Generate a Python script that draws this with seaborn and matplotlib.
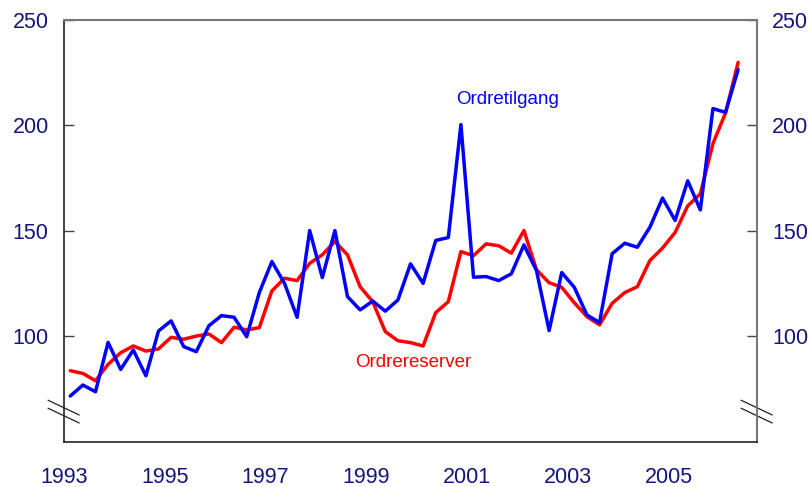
import numpy as np
import pandas as pd
import matplotlib
matplotlib.use('Agg')
import matplotlib.pyplot as plt
import seaborn as sns

# Quarterly data, 1993Q1 - 2006Q2
quarters = pd.period_range('1993Q1', '2006Q2', freq='Q')

ordretilgang = [71.8, 77.0, 73.8, 97.2, 84.4, 93.6, 81.4, 102.6, 107.4, 95.2,
                92.8, 105.1, 109.9, 109.1, 99.9, 120.8, 135.5, 125.2, 109.1, 150.2,
                127.9, 150.2, 118.9, 112.6, 116.8, 112.0, 117.3, 134.4, 125.2, 145.5,
                146.9, 200.4, 128.1, 128.4, 126.5, 129.7, 143.4, 131.2, 102.8, 130.3,
                123.3, 110.2, 106.6, 139.2, 144.2, 142.3, 151.8, 165.6, 155.0, 173.8,
                160.0, 208.0, 206.2, 226.5]

ordrereserver = [83.8, 82.5, 79.0, 86.8, 92.3, 95.5, 93.1, 94.1, 99.6, 98.7,
                 100.2, 101.2, 97.1, 104.4, 103.1, 104.2, 121.6, 127.6, 126.5, 134.7,
                 138.7, 145.0, 138.7, 123.6, 116.5, 102.3, 98.0, 97.1, 95.5, 111.3,
                 116.5, 140.2, 138.3, 143.9, 143.0, 139.5, 150.2, 131.6, 125.5, 123.3,
                 116.0, 109.4, 105.5, 115.7, 120.8, 123.6, 136.0, 141.9, 149.3, 161.9,
                 167.6, 191.4, 205.9, 229.9]

year_ticks = list(range(1993, 2007))
year_labels = [str(y) if y % 2 == 1 else '' for y in year_ticks]
y_ticks = [100, 150, 200, 250]

# mid-quarter position in decimal years
xpos = quarters.year + (quarters.quarter - 1) * 0.25 + 0.125
df = pd.DataFrame({'x': np.asarray(xpos, dtype=float),
                   'Ordretilgang': ordretilgang,
                   'Ordrereserver': ordrereserver})

sns.set_style('white')
plt.rcParams['font.family'] = ['Liberation Sans', 'DejaVu Sans']

navy = '#14147a'
fig = plt.figure(figsize=(8.12, 4.87), dpi=100)
ax = fig.add_axes([0.0788, 0.0924, 0.8535, 0.8666])

sns.lineplot(data=df, x='x', y='Ordrereserver', color='#ff0000', lw=2.5, ax=ax)
sns.lineplot(data=df, x='x', y='Ordretilgang', color='#0000ff', lw=2.5, ax=ax)

ax.set_xlim(1993, 2006.75)
ax.set_ylim(50, 250)
ax.set_xlabel('')
ax.set_ylabel('')

ax.set_xticks(year_ticks)
ax.set_xticklabels(year_labels)
ax.set_yticks(y_ticks)
ax.tick_params(axis='both', direction='in', length=7, width=1, color='#444444',
               labelsize=15.5, labelcolor=navy)
ax.tick_params(axis='x', pad=18)
ax.tick_params(axis='y', pad=11, right=True, labelright=True, left=True)

for side in ['left', 'bottom']:
    ax.spines[side].set_color('#222222')
    ax.spines[side].set_linewidth(1.2)
for side in ['top', 'right']:
    ax.spines[side].set_color('#777777')
    ax.spines[side].set_linewidth(1.5)

# axis break marks
for xb in [0.0, 1.0]:
    for dy in [0.0, 0.019]:
        ax.plot([xb - 0.023, xb + 0.022], [0.099 - dy, 0.064 - dy],
                transform=ax.transAxes, color='#222222', lw=0.9, clip_on=False)

ax.text(2001.8, 212.5, 'Ordretilgang', color='#0000ff', fontsize=13.5,
        ha='center', va='center')
ax.text(1999.92, 87.7, 'Ordrereserver', color='#ff0000', fontsize=13.5,
        ha='center', va='center')

plt.savefig('out.png', dpi=100)
